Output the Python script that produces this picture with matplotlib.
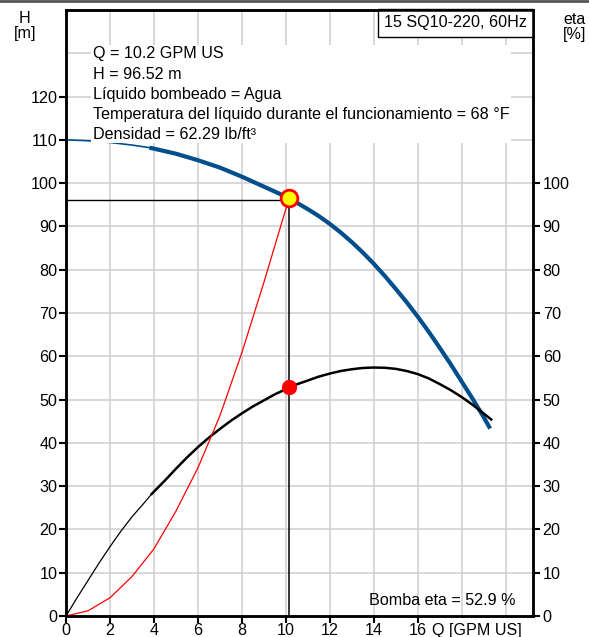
import matplotlib
matplotlib.use("Agg")
import matplotlib.pyplot as plt
from matplotlib.lines import Line2D

plt.rcParams['font.family'] = ['Liberation Sans', 'DejaVu Sans']

# Pump head curve H [m] vs Q [GPM US]
h_q = [0, 1, 2, 3, 3.8, 5, 6, 7, 8, 9, 10, 10.15, 11, 11.5, 12, 12.5, 13, 13.5, 14, 14.5,
       15, 15.5, 16, 16.5, 17, 17.5, 18, 18.5, 19, 19.3]
h_val = [110, 109.8, 109.4, 108.8, 108.2, 106.8, 105.3, 103.6, 101.5, 99.2, 96.9, 96.52,
         94.0, 92.4, 90.6, 88.6, 86.4, 84.0, 81.4, 78.6, 75.6, 72.5, 69.2, 65.7,
         62.0, 58.2, 54.2, 50.2, 46.0, 43.3]
# Efficiency curve eta [%]
e_q = [0, 0.5, 1, 1.5, 2, 2.5, 3, 3.5, 3.9, 4.5, 5, 5.5, 6, 6.5, 7, 7.5, 8, 8.5, 9, 9.5,
       10, 10.15, 11, 11.5, 12, 12.5, 13, 13.5, 14, 14.5, 15, 15.5, 16, 16.5, 17, 17.5,
       18, 18.5, 19, 19.35]
e_val = [0, 4.2, 8.2, 12.2, 16.0, 19.6, 22.9, 25.8, 28.2, 31.3, 34.0, 36.6, 39.0, 41.2,
         43.2, 45.1, 46.8, 48.4, 49.8, 51.2, 52.4, 52.9, 54.4, 55.3, 56.0, 56.6, 57.0,
         57.3, 57.4, 57.35, 57.1, 56.6, 55.9, 54.9, 53.6, 52.2, 50.6, 48.8, 46.8, 45.4]
# System curve (red)
s_q = [0, 1, 2, 3, 4, 5, 6, 7, 8, 9, 10.15]
s_val = [0, 1.2, 4.2, 9.1, 15.5, 24.2, 34.2, 46.2, 60.8, 77.0, 96.52]

op_q = 10.15
op_h = 96.52
op_eta = 52.9

x_ticks = [0, 2, 4, 6, 8, 10, 12, 14, 16]
h_ticks = [0, 10, 20, 30, 40, 50, 60, 70, 80, 90, 100, 110, 120]
eta_ticks = [0, 10, 20, 30, 40, 50, 60, 70, 80, 90, 100]

info_lines = ["Q = 10.2 GPM US", "H = 96.52 m", "Líquido bombeado = Agua",
              "Temperatura del líquido durante el funcionamiento = 68 °F",
              "Densidad = 62.29 lb/ft³"]
title = "15 SQ10-220, 60Hz"
eta_label = "Bomba eta = 52.9 %"

FS = 11.6

fig = plt.figure(figsize=(5.89, 6.37), dpi=100)
ax = fig.add_axes([66/589, 1-616/637, (533-66)/589, (616-10)/637])
ax.set_xlim(0, 21.25)
ax.set_ylim(0, 140)

# grid
for gx in range(2, 21, 2):
    ax.axvline(gx, color='#d2d2d2', lw=1.2, zorder=0)
for gy in range(10, 140, 10):
    ax.axhline(gy, color='#d2d2d2', lw=1.2, zorder=0)

# head curve: thin then thick
split = 4
ax.plot(h_q[:split+1], h_val[:split+1], color='#004f8c', lw=1.2, zorder=3)
ax.plot(h_q[split:], h_val[split:], color='#004f8c', lw=3.0, zorder=3,
        solid_capstyle='butt', solid_joinstyle='round')
# efficiency: thin then thicker
esplit = 8
ax.plot(e_q[:esplit+1], e_val[:esplit+1], color='black', lw=0.9, zorder=3)
ax.plot(e_q[esplit:], e_val[esplit:], color='black', lw=1.8, zorder=3,
        solid_joinstyle='round')
# system curve
ax.plot(s_q, s_val, color='red', lw=0.9, zorder=3)

# operating point lines
ax.plot([op_q, op_q], [0, op_h], color='black', lw=1.1, zorder=4)
ax.plot([0, op_q], [op_h - 0.3, op_h - 0.3], color='black', lw=1.0, zorder=4)
ax.plot([op_q], [op_h], marker='o', ms=12, mfc='yellow', mec='red', mew=2, zorder=6)
ax.plot([op_q], [op_eta], marker='o', ms=10, mfc='red', mec='red', zorder=6)

# ticks
ax.set_xticks(x_ticks)
ax.set_yticks(h_ticks)
ax.tick_params(axis='y', direction='out', length=5, width=1.5, labelsize=FS, pad=1)
ax.tick_params(axis='x', direction='out', length=5, width=1.5, labelsize=FS, pad=0)
ax2 = ax.twinx()
ax2.set_ylim(0, 140)
ax2.set_yticks(eta_ticks)
ax2.tick_params(axis='y', direction='out', length=5, width=1.5, labelsize=FS, pad=2)
for a in (ax, ax2):
    for s in a.spines.values():
        s.set_linewidth(1.8)

# texts
ax.text(1.22, 131.6, "\n".join(info_lines), fontsize=FS, va='top', ha='left',
        linespacing=1.43, zorder=7,
        bbox=dict(facecolor='white', edgecolor='none', pad=1))
ax.annotate(title, xy=(1, 1), xycoords='axes fraction', xytext=(-4.4, -3.8),
            textcoords='offset points', ha='right', va='top', fontsize=FS, zorder=8,
            bbox=dict(facecolor='white', edgecolor='black', lw=1, pad=4.5))
ax.text(20.45, 3.6, eta_label, ha='right', va='center', fontsize=FS, zorder=7)
fig.text(25/589, 1-26/637, "H\n[m]", ha='center', va='center', fontsize=FS, linespacing=1.0)
fig.text(575/589, 1-27/637, "eta\n[%]", ha='center', va='center', fontsize=FS, linespacing=1.0)
fig.text(477/589, 1-630/637, "Q [GPM US]", ha='center', va='center', fontsize=FS)

fig.add_artist(Line2D([0, 1], [0.999, 0.999], color='#555555', lw=2, transform=fig.transFigure))

fig.savefig("out.png", dpi=100)
